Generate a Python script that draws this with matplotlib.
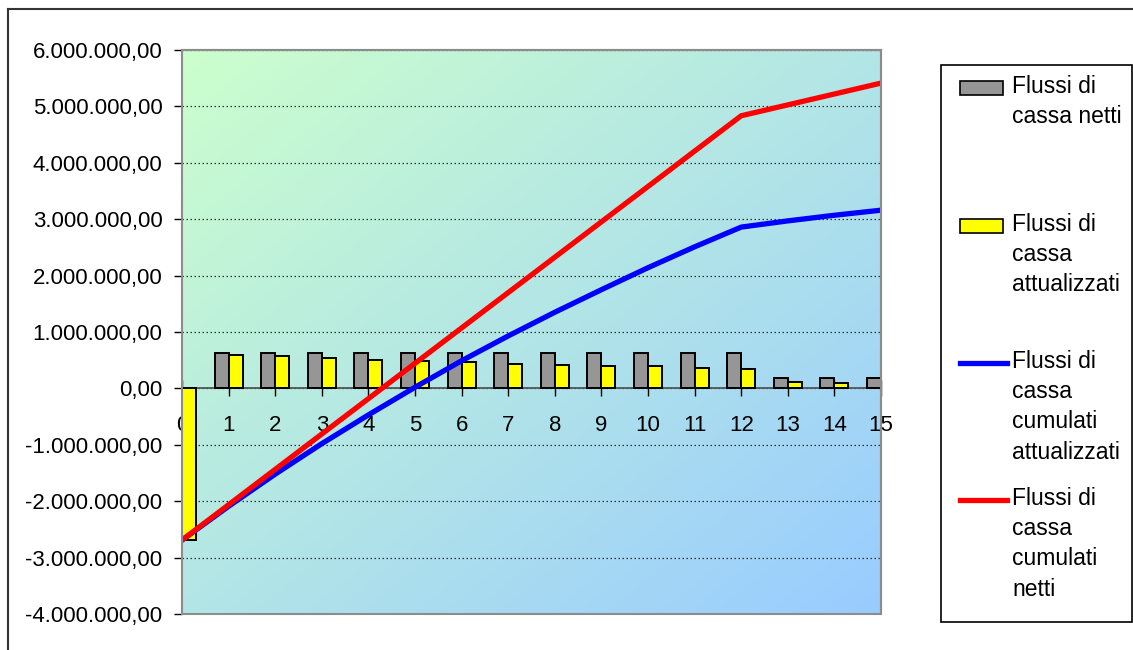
import numpy as np
import matplotlib.pyplot as plt
from matplotlib import font_manager
from matplotlib.patches import Rectangle
from matplotlib.lines import Line2D
from matplotlib.colors import LinearSegmentedColormap
from matplotlib.ticker import FuncFormatter

# narrow Arial-like face if present, otherwise regular Liberation Sans
installed = {f.name for f in font_manager.fontManager.ttflist}
if 'Liberation Sans Narrow' in installed:
    FONT, TICK_FS, LEG_FS = 'Liberation Sans Narrow', 19.5, 19.5
else:
    FONT, TICK_FS, LEG_FS = 'Liberation Sans', 16, 16.5
plt.rcParams['font.family'] = [FONT, 'DejaVu Sans']

# Cash flow data (EUR), year 0 = initial investment
years = list(range(16))
flussi_netti = [-2690000] + [627000] * 12 + [193000] * 3
flussi_attualizzati = [-2690000, 600000, 570000, 540000, 510000, 490000, 470000,
                       440000, 420000, 400000, 390000, 370000, 350000,
                       110000, 100000, 90000]

cumulati_netti = np.cumsum(flussi_netti)
cumulati_attualizzati = np.cumsum(flussi_attualizzati)

legend_labels = ["Flussi di\ncassa netti",
                 "Flussi di\ncassa\nattualizzati",
                 "Flussi di\ncassa\ncumulati\nattualizzati",
                 "Flussi di\ncassa\ncumulati\nnetti"]

W, H = 1133, 650
fig = plt.figure(figsize=(W / 100, H / 100), dpi=100)
ax = fig.add_axes([182 / W, 1 - 614 / H, (881 - 182) / W, (614 - 50) / H])

# diagonal gradient fill of the plot area
grad_cmap = LinearSegmentedColormap.from_list("bg", ["#CCFFCC", "#99CCFF"])
gx, gy = np.meshgrid(np.linspace(0, 1, 200), np.linspace(0, 1, 200))
ax.imshow((gx + gy) / 2, cmap=grad_cmap, extent=[0, 1, 0, 1], transform=ax.transAxes,
          aspect='auto', zorder=0, interpolation='bilinear')

x = np.array(years)
bw = 0.3
ax.bar(x - bw / 2, flussi_netti, width=bw, color='#969696', edgecolor='black',
       linewidth=1.4, zorder=3)
ax.bar(x + bw / 2, flussi_attualizzati, width=bw, color='#FFFF00', edgecolor='black',
       linewidth=1.4, zorder=3)
ax.plot(x, cumulati_attualizzati, color='#0000FF', lw=3.8, zorder=4)
ax.plot(x, cumulati_netti, color='#FF0000', lw=3.8, zorder=5)

ax.set_xlim(0, 15)
ax.set_ylim(-4000000, 6000000)
ax.set_yticks(np.arange(-4000000, 6000001, 1000000))
ax.yaxis.set_major_formatter(FuncFormatter(
    lambda v, p: f"{v:,.2f}".replace(",", "X").replace(".", ",").replace("X", ".")))
ax.grid(axis='y', linestyle=(0, (1.2, 2)), color='#333333', linewidth=0.9, zorder=1)
ax.set_axisbelow(True)

ax.spines['bottom'].set_position(('data', 0))
ax.spines['bottom'].set_color('#555555')
ax.spines['bottom'].set_linewidth(1.3)
ax.spines['bottom'].set_zorder(2)
for s in ('top', 'right'):
    ax.spines[s].set_color('#8c8c8c')
    ax.spines[s].set_linewidth(1.5)
ax.spines['left'].set_color('black')
ax.spines['left'].set_linewidth(1.3)

# bottom border of the plot area
ax.add_patch(Rectangle((0, 0), 1, 1, transform=ax.transAxes, fill=False,
                       edgecolor='#8c8c8c', linewidth=1.5, zorder=6, clip_on=False))

ax.set_xticks(x)
ax.set_xticklabels([str(y) for y in years])
ax.tick_params(axis='x', direction='inout', length=11, width=1, colors='black',
               labelsize=TICK_FS, pad=14)
ax.tick_params(axis='y', direction='out', length=6, width=1, labelsize=TICK_FS, pad=8)

# outer chart border (top and left)
fig.add_artist(Line2D([8 / W, 1], [1 - 9 / H, 1 - 9 / H], color='#333333', lw=1.5))
fig.add_artist(Line2D([8 / W, 8 / W], [0, 1 - 9 / H], color='#333333', lw=1.5))

# legend box
fig.add_artist(Rectangle((941 / W, 1 - 622 / H), (1132 - 941) / W, (622 - 65) / H,
                         transform=fig.transFigure, fill=False, edgecolor='black', lw=1.2))

entries = [('patch', '#969696', 88, legend_labels[0]),
           ('patch', '#FFFF00', 226, legend_labels[1]),
           ('line', '#0000FF', 363, legend_labels[2]),
           ('line', '#FF0000', 500, legend_labels[3])]
for kind, color, yc, label in entries:
    if kind == 'patch':
        fig.add_artist(Rectangle((960 / W, 1 - (yc + 7) / H), 43 / W, 14 / H,
                                 transform=fig.transFigure, facecolor=color,
                                 edgecolor='black', lw=1.2))
    else:
        fig.add_artist(Line2D([960 / W, 1007 / W], [1 - yc / H, 1 - yc / H],
                              color=color, lw=3.8))
    fig.text(1012 / W, 1 - (yc - 13) / H, label, ha='left', va='top',
             fontsize=LEG_FS, linespacing=1.4)

fig.savefig("out.png", dpi=100)
